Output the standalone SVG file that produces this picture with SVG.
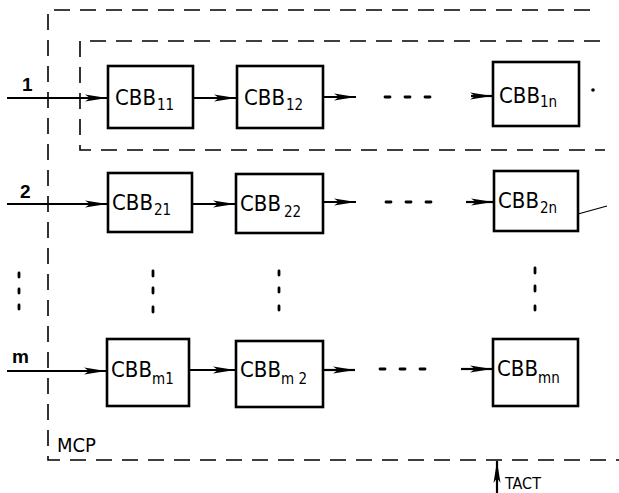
<svg xmlns="http://www.w3.org/2000/svg" width="619" height="493" viewBox="0 0 619 493">
<style>
.box{fill:#fff;stroke:#000;stroke-width:2.6}
.dash{fill:none;stroke:#000;stroke-width:1.6;stroke-dasharray:16 10}
.ln{fill:none;stroke:#000;stroke-width:2.2}
.dot{fill:none;stroke:#000;stroke-width:2.8;stroke-linecap:round}
.t{font-family:"DejaVu Sans Condensed","DejaVu Sans",sans-serif;font-stretch:condensed;font-size:22px;fill:#000}
.s{font-size:15px}
.lbl{font-family:"Liberation Sans",Arial,sans-serif;font-size:19px;fill:#000;font-weight:bold}
</style>
<defs>
<marker id="ah" viewBox="0 0 22 10" refX="22" refY="5" markerWidth="22" markerHeight="10" markerUnits="userSpaceOnUse" orient="auto">
<path d="M0,1.5 L22,5 L0,8.5 L5,5 Z" fill="#000"/>
</marker>
</defs>
<rect width="619" height="493" fill="#fff"/>
<g id="mcp">
<path class="dash" d="M590,10 H48 V460 H619"/>
<text class="t" x="57" y="452" style="font-size:20px">MCP</text>
</g>
<g id="row1-group">
<path class="dash" d="M600,41 H80 V150 H605"/>
</g>
<g id="connectors">
<line class="ln" x1="7" y1="98" x2="107" y2="98" marker-end="url(#ah)"/>
<line class="ln" x1="193" y1="98" x2="236" y2="98" marker-end="url(#ah)"/>
<line class="ln" x1="323" y1="97" x2="356" y2="97" marker-end="url(#ah)"/>
<line class="ln" x1="471" y1="96" x2="492" y2="96" marker-end="url(#ah)"/>
<line class="ln" x1="7" y1="204" x2="107" y2="204" marker-end="url(#ah)"/>
<line class="ln" x1="192" y1="204" x2="235" y2="204" marker-end="url(#ah)"/>
<line class="ln" x1="323" y1="202" x2="356" y2="202" marker-end="url(#ah)"/>
<line class="ln" x1="466" y1="202" x2="493" y2="202" marker-end="url(#ah)"/>
<line class="ln" x1="7" y1="371" x2="106" y2="371" marker-end="url(#ah)"/>
<line class="ln" x1="189" y1="370" x2="235" y2="370" marker-end="url(#ah)"/>
<line class="ln" x1="323" y1="370" x2="355" y2="370" marker-end="url(#ah)"/>
<line class="ln" x1="461" y1="369" x2="492" y2="369" marker-end="url(#ah)"/>
<line x1="578" y1="214" x2="607" y2="206" stroke="#000" stroke-width="1.2"/>
<line class="ln" x1="497" y1="493" x2="497" y2="461" marker-end="url(#ah)"/>
<path class="dot" d="M385,97h5 M405,97h5 M425,97h5"/>
<path class="dot" d="M386,202h5 M406,202h5 M426,202h5"/>
<path class="dot" d="M380,369h5 M400,369h5 M420,369h5"/>
<circle cx="593" cy="90" r="1.8" fill="#000"/>
<path class="dot" d="M19,273v4 M19,289v4 M19,305v4"/>
<path class="dot" d="M153,271v5 M153,288v5 M153,307v5"/>
<path class="dot" d="M279,271v4 M279,288v4 M279,306v4"/>
<path class="dot" d="M535,268v5 M535,286v5 M535,306v4"/>
<text class="lbl" x="22" y="91">1</text>
<text class="lbl" x="20" y="198">2</text>
<text class="lbl" x="12" y="363">m</text>
<text class="t" x="505" y="489" style="font-size:16px">TACT</text>
</g>
<g id="cbb11"><rect class="box" x="108" y="66" width="85" height="62"/><text class="t" x="115" y="105">CBB<tspan class="s" dy="5" dx="1">11</tspan></text></g>
<g id="cbb12"><rect class="box" x="237" y="66" width="86" height="62"/><text class="t" x="244" y="105">CBB<tspan class="s" dy="5" dx="1">12</tspan></text></g>
<g id="cbb1n"><rect class="box" x="493" y="62" width="86" height="64"/><text class="t" x="499" y="103">CBB<tspan class="s" dy="4">1n</tspan></text></g>
<g id="cbb21"><rect class="box" x="108" y="173" width="84" height="59"/><text class="t" x="112" y="210">CBB<tspan class="s" dy="5" dx="1">21</tspan></text></g>
<g id="cbb22"><rect class="box" x="236" y="174" width="87" height="59"/><text class="t" x="240" y="211">CBB<tspan class="s" dy="6" dx="3">22</tspan></text></g>
<g id="cbb2n"><rect class="box" x="494" y="171" width="84" height="60"/><text class="t" x="498" y="208">CBB<tspan class="s" dy="5" dx="1">2n</tspan></text></g>
<g id="cbbm1"><rect class="box" x="107" y="339" width="82" height="67"/><text class="t" x="111" y="377">CBB<tspan class="s" dy="7">m1</tspan></text></g>
<g id="cbbm2"><rect class="box" x="236" y="341" width="87" height="66"/><text class="t" x="240" y="377">CBB<tspan class="s" dy="7">m 2</tspan></text></g>
<g id="cbbmn"><rect class="box" x="493" y="339" width="85" height="67"/><text class="t" x="497" y="376">CBB<tspan class="s" dy="7">mn</tspan></text></g>
</svg>
